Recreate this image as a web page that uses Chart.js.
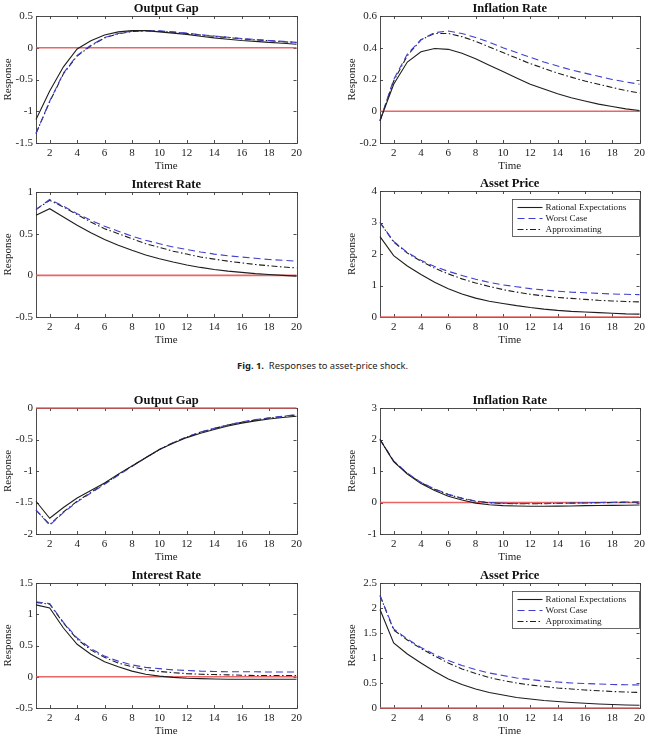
<!DOCTYPE html>
<html lang="en">
<head>
<meta charset="UTF-8">
<title>Responses to shocks</title>
<style>
  body { margin: 0; background: #fff; width: 649px; height: 736px; overflow: hidden; position: relative; }
  canvas { position: absolute; }
  .cap { position: absolute; left: 237px; top: 359px; font: 9.4px "Noto Sans", sans-serif; color: #222; white-space: nowrap; line-height: 14px; }
</style>
</head>
<body>
<div class="cap"><b>Fig. 1.</b>&nbsp; Responses to asset-price shock.</div>
<script src="https://cdn.jsdelivr.net/npm/chart.js"></script>
<script>
// horizon and axis ticks
const time = [1, 2, 3, 4, 5, 6, 7, 8, 9, 10, 11, 12, 13, 14, 15, 16, 17, 18, 19, 20];
const xTicks = [2, 4, 6, 8, 10, 12, 14, 16, 18, 20];
const zeroLine = [0, 0, 0, 0, 0, 0, 0, 0, 0, 0, 0, 0, 0, 0, 0, 0, 0, 0, 0, 0];
const seriesNames = ['Rational Expectations', 'Worst Case', 'Approximating'];

// Fig. 1 - asset-price shock
const gap1RE = [-1.13, -0.68, -0.30, -0.02, 0.11, 0.20, 0.25, 0.27, 0.27, 0.25, 0.23, 0.21, 0.18, 0.155, 0.135, 0.115, 0.10, 0.085, 0.07, 0.055];
const gap1WC = [-1.35, -0.84, -0.40, -0.12, 0.04, 0.16, 0.225, 0.26, 0.27, 0.265, 0.25, 0.23, 0.205, 0.185, 0.165, 0.145, 0.13, 0.115, 0.10, 0.085];
const gap1AP = [-1.35, -0.85, -0.41, -0.13, 0.03, 0.155, 0.22, 0.255, 0.265, 0.26, 0.245, 0.225, 0.20, 0.18, 0.16, 0.14, 0.125, 0.11, 0.095, 0.08];

const inf1RE = [-0.06, 0.17, 0.31, 0.375, 0.395, 0.39, 0.365, 0.33, 0.29, 0.25, 0.21, 0.17, 0.14, 0.11, 0.085, 0.065, 0.045, 0.03, 0.015, 0.005];
const inf1WC = [-0.06, 0.20, 0.36, 0.45, 0.495, 0.505, 0.49, 0.465, 0.435, 0.40, 0.37, 0.34, 0.31, 0.285, 0.26, 0.24, 0.22, 0.20, 0.185, 0.17];
const inf1AP = [-0.06, 0.19, 0.35, 0.45, 0.49, 0.49, 0.47, 0.44, 0.405, 0.37, 0.335, 0.30, 0.27, 0.24, 0.215, 0.19, 0.17, 0.15, 0.13, 0.115];

const int1RE = [0.72, 0.80, 0.70, 0.60, 0.51, 0.43, 0.36, 0.30, 0.245, 0.20, 0.16, 0.125, 0.095, 0.07, 0.05, 0.035, 0.02, 0.01, 0.0, -0.01];
const int1WC = [0.79, 0.91, 0.83, 0.74, 0.66, 0.59, 0.53, 0.47, 0.42, 0.38, 0.34, 0.31, 0.28, 0.255, 0.235, 0.22, 0.205, 0.19, 0.18, 0.17];
const int1AP = [0.79, 0.90, 0.82, 0.73, 0.64, 0.56, 0.50, 0.44, 0.38, 0.335, 0.29, 0.255, 0.22, 0.195, 0.17, 0.15, 0.13, 0.115, 0.10, 0.09];

const ast1RE = [2.55, 1.95, 1.62, 1.35, 1.10, 0.90, 0.73, 0.60, 0.50, 0.43, 0.36, 0.30, 0.25, 0.21, 0.18, 0.16, 0.14, 0.12, 0.10, 0.09];
const ast1WC = [3.0, 2.40, 2.05, 1.80, 1.60, 1.45, 1.32, 1.20, 1.10, 1.02, 0.96, 0.90, 0.86, 0.82, 0.79, 0.77, 0.75, 0.73, 0.72, 0.71];
const ast1AP = [3.0, 2.38, 2.03, 1.77, 1.55, 1.37, 1.21, 1.08, 0.97, 0.87, 0.79, 0.72, 0.67, 0.62, 0.59, 0.56, 0.53, 0.51, 0.49, 0.48];

// second figure
const gap2RE = [-1.48, -1.75, -1.58, -1.43, -1.31, -1.19, -1.05, -0.92, -0.79, -0.66, -0.56, -0.47, -0.40, -0.34, -0.285, -0.24, -0.205, -0.175, -0.15, -0.13];
const gap2WC = [-1.62, -1.86, -1.66, -1.49, -1.35, -1.21, -1.07, -0.93, -0.79, -0.66, -0.55, -0.46, -0.38, -0.32, -0.27, -0.22, -0.185, -0.155, -0.13, -0.105];
const gap2AP = [-1.62, -1.85, -1.65, -1.48, -1.34, -1.20, -1.06, -0.92, -0.79, -0.66, -0.55, -0.46, -0.385, -0.325, -0.27, -0.225, -0.19, -0.16, -0.135, -0.11];

const inf2RE = [2.0, 1.30, 0.90, 0.60, 0.38, 0.20, 0.08, -0.02, -0.07, -0.10, -0.11, -0.12, -0.12, -0.115, -0.11, -0.10, -0.095, -0.09, -0.085, -0.08];
const inf2WC = [2.0, 1.32, 0.93, 0.64, 0.43, 0.26, 0.14, 0.05, 0.0, -0.02, -0.03, -0.03, -0.03, -0.025, -0.02, -0.01, 0.0, 0.01, 0.015, 0.02];
const inf2AP = [2.0, 1.31, 0.92, 0.63, 0.42, 0.25, 0.13, 0.04, -0.01, -0.03, -0.04, -0.04, -0.035, -0.03, -0.02, -0.015, -0.01, 0.0, 0.005, 0.01];

const int2RE = [1.15, 1.10, 0.78, 0.52, 0.36, 0.24, 0.16, 0.09, 0.04, 0.01, -0.01, -0.025, -0.03, -0.035, -0.04, -0.04, -0.04, -0.04, -0.04, -0.04];
const int2WC = [1.20, 1.17, 0.87, 0.62, 0.45, 0.33, 0.25, 0.19, 0.15, 0.13, 0.11, 0.10, 0.09, 0.085, 0.08, 0.08, 0.08, 0.075, 0.075, 0.075];
const int2AP = [1.19, 1.16, 0.86, 0.60, 0.43, 0.31, 0.22, 0.16, 0.11, 0.085, 0.065, 0.05, 0.04, 0.035, 0.03, 0.025, 0.02, 0.02, 0.02, 0.02];

const ast2RE = [1.97, 1.30, 1.08, 0.90, 0.73, 0.58, 0.47, 0.38, 0.31, 0.26, 0.21, 0.18, 0.15, 0.13, 0.11, 0.095, 0.08, 0.07, 0.06, 0.055];
const ast2WC = [2.25, 1.58, 1.38, 1.21, 1.07, 0.95, 0.85, 0.77, 0.70, 0.65, 0.60, 0.57, 0.54, 0.52, 0.50, 0.49, 0.48, 0.47, 0.465, 0.46];
const ast2AP = [2.25, 1.56, 1.36, 1.19, 1.04, 0.90, 0.78, 0.69, 0.61, 0.55, 0.50, 0.46, 0.43, 0.40, 0.38, 0.36, 0.345, 0.33, 0.32, 0.31];

// y tick labels per panel
const yTicksGap1 = [-1.5, -1, -0.5, 0, 0.5];
const yTicksInf1 = [-0.2, 0, 0.2, 0.4, 0.6];
const yTicksInt1 = [-0.5, 0, 0.5, 1];
const yTicksAst1 = [0, 1, 2, 3, 4];
const yTicksGap2 = [-2, -1.5, -1, -0.5, 0];
const yTicksInf2 = [-1, 0, 1, 2, 3];
const yTicksInt2 = [-0.5, 0, 0.5, 1, 1.5];
const yTicksAst2 = [0, 0.5, 1, 1.5, 2, 2.5];

const SERIF = '"Liberation Serif", "Times New Roman", serif';
const AXIS_W = 36, TITLE_H = 16, XAXIS_H = 30, PAD_R = 9;

// plot-area placement of each panel on the page
const panels = [
  { title: 'Output Gap', re: gap1RE, wc: gap1WC, ap: gap1AP, yTicks: yTicksGap1, left: 36, top: 16, w: 261, h: 127 },
  { title: 'Inflation Rate', re: inf1RE, wc: inf1WC, ap: inf1AP, yTicks: yTicksInf1, left: 380, top: 16, w: 260, h: 127 },
  { title: 'Interest Rate', re: int1RE, wc: int1WC, ap: int1AP, yTicks: yTicksInt1, left: 36, top: 192, w: 261, h: 125 },
  { title: 'Asset Price', re: ast1RE, wc: ast1WC, ap: ast1AP, yTicks: yTicksAst1, left: 380, top: 191, w: 260, h: 126, legend: true },
  { title: 'Output Gap', re: gap2RE, wc: gap2WC, ap: gap2AP, yTicks: yTicksGap2, left: 36, top: 408, w: 261, h: 126 },
  { title: 'Inflation Rate', re: inf2RE, wc: inf2WC, ap: inf2AP, yTicks: yTicksInf2, left: 380, top: 408, w: 260, h: 126 },
  { title: 'Interest Rate', re: int2RE, wc: int2WC, ap: int2AP, yTicks: yTicksInt2, left: 36, top: 583, w: 261, h: 125 },
  { title: 'Asset Price', re: ast2RE, wc: ast2WC, ap: ast2AP, yTicks: yTicksAst2, left: 380, top: 583, w: 260, h: 125, legend: true }
];

// box with inward tick marks on all four sides
const framePlugin = {
  id: 'frame',
  beforeDatasetsDraw(chart) {
    const { ctx, chartArea: a, scales: { x, y } } = chart;
    ctx.save();
    ctx.strokeStyle = '#3a3a3a';
    ctx.lineWidth = 0.9;
    ctx.strokeRect(Math.round(a.left) + 0.5, Math.round(a.top) + 0.5, Math.round(a.right - a.left), Math.round(a.bottom - a.top));
    ctx.beginPath();
    x.ticks.forEach(t => {
      const px = Math.round(x.getPixelForValue(t.value)) + 0.5;
      ctx.moveTo(px, a.bottom); ctx.lineTo(px, a.bottom - 3);
      ctx.moveTo(px, a.top); ctx.lineTo(px, a.top + 3);
    });
    y.ticks.forEach(t => {
      const py = Math.round(y.getPixelForValue(t.value)) + 0.5;
      ctx.moveTo(a.left, py); ctx.lineTo(a.left + 3, py);
      ctx.moveTo(a.right, py); ctx.lineTo(a.right - 3, py);
    });
    ctx.stroke();
    ctx.restore();
  }
};

// MATLAB-like boxed legend in the top-right corner
const boxLegendPlugin = {
  id: 'boxLegend',
  afterDatasetsDraw(chart, args, opts) {
    if (!opts.display) return;
    const { ctx, chartArea: a } = chart;
    const bw = 127, bh = 37;
    const bx = Math.round(a.right - bw) - 0.5, by = Math.round(a.top + 8) + 0.5;
    ctx.save();
    ctx.fillStyle = '#fff';
    ctx.fillRect(bx, by, bw, bh);
    ctx.strokeStyle = '#444';
    ctx.lineWidth = 0.8;
    ctx.strokeRect(bx, by, bw, bh);
    ctx.font = '9.2px ' + SERIF;
    ctx.textBaseline = 'middle';
    chart.data.datasets.slice(0, 3).forEach((ds, i) => {
      const ly = by + 8 + i * 11;
      ctx.strokeStyle = ds.borderColor;
      ctx.lineWidth = ds.borderWidth;
      ctx.setLineDash(ds.borderDash || []);
      ctx.beginPath();
      ctx.moveTo(bx + 5, ly); ctx.lineTo(bx + 30, ly);
      ctx.stroke();
      ctx.setLineDash([]);
      ctx.fillStyle = '#222';
      ctx.fillText(ds.label, bx + 33, ly + 0.5);
    });
    ctx.restore();
  }
};

function pts(arr) {
  return time.map((t, i) => ({ x: t, y: arr[i] }));
}

panels.forEach(p => {
  const cv = document.createElement('canvas');
  cv.width = AXIS_W + p.w + PAD_R;
  cv.height = TITLE_H + p.h + XAXIS_H;
  cv.style.left = (p.left - AXIS_W) + 'px';
  cv.style.top = (p.top - TITLE_H) + 'px';
  document.body.appendChild(cv);

  const tickFont = { family: SERIF, size: 11 };
  new Chart(cv, {
    type: 'line',
    data: {
      datasets: [
        { label: seriesNames[0], data: pts(p.re), borderColor: '#1e1e1e', borderWidth: 1.1, clip: 3 },
        { label: seriesNames[1], data: pts(p.wc), borderColor: '#3f3fcf', borderWidth: 1.1, borderDash: [7, 4], clip: 3 },
        { label: seriesNames[2], data: pts(p.ap), borderColor: '#1e1e1e', borderWidth: 1.1, borderDash: [6, 2.5, 1.5, 2.5], clip: 3 },
        { label: 'zero', data: pts(zeroLine), borderColor: 'rgba(232,85,85,0.9)', borderWidth: 1.6, clip: 3 }
      ]
    },
    options: {
      responsive: false,
      animation: false,
      devicePixelRatio: 1,
      layout: { padding: { left: 0, right: PAD_R, top: 0, bottom: 0 } },
      elements: { point: { radius: 0 }, line: { tension: 0 } },
      plugins: {
        legend: { display: false },
        tooltip: { enabled: false },
        title: {
          display: true, text: p.title, fullSize: false, color: '#111',
          font: { family: SERIF, size: 12.5, weight: 'bold', lineHeight: 1.152 },
          padding: { top: 1.5, bottom: 0.1 }
        },
        boxLegend: { display: !!p.legend }
      },
      scales: {
        x: {
          type: 'linear', min: 1, max: 20,
          afterBuildTicks: s => { s.ticks = xTicks.map(v => ({ value: v })); },
          afterFit: s => { s.height = XAXIS_H; },
          grid: { display: false, drawTicks: false },
          border: { display: false },
          ticks: { autoSkip: false, maxRotation: 0, padding: 4, font: tickFont, color: '#222' },
          title: { display: true, text: 'Time', font: tickFont, color: '#222', padding: { top: 0, bottom: 0 } }
        },
        y: {
          min: p.yTicks[0], max: p.yTicks[p.yTicks.length - 1],
          afterBuildTicks: s => { s.ticks = p.yTicks.map(v => ({ value: v })); },
          afterFit: s => { s.width = AXIS_W; },
          grid: { display: false, drawTicks: false },
          border: { display: false },
          ticks: { padding: 3, font: tickFont, color: '#222', callback: v => String(v) },
          title: { display: true, text: 'Response', font: tickFont, color: '#222', padding: { top: 1.5, bottom: 0 } }
        }
      }
    },
    plugins: [framePlugin, boxLegendPlugin]
  });
});
</script>
</body>
</html>
